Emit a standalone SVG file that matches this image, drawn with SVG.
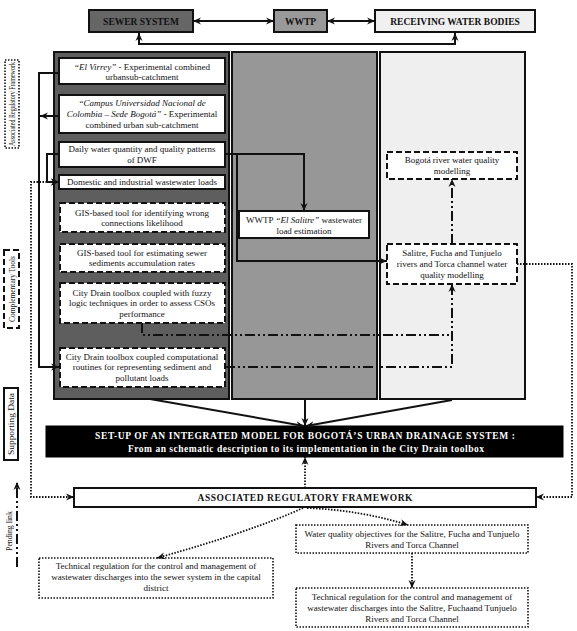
<svg xmlns="http://www.w3.org/2000/svg" width="577" height="631" viewBox="0 0 577 631">
<style>
text{font-family:"Liberation Serif","Times New Roman",serif;font-size:9px;fill:#111;text-anchor:middle}
.hd{font-weight:bold;font-size:9.5px}
.wb{fill:#fff;font-weight:bold;font-size:9.5px}
.lg{font-size:8.5px}
.solid{fill:#fff;stroke:#111;stroke-width:2}
.dash{fill:#fff;stroke:#111;stroke-width:2;stroke-dasharray:6,3}
.dot{fill:#fff;stroke:#111;stroke-width:1.6;stroke-dasharray:1.5,1.5}
.ln{fill:none;stroke:#111;stroke-width:2}
.dd{fill:none;stroke:#111;stroke-width:2;stroke-dasharray:10,3,2,3,2,3}
.dl{fill:none;stroke:#111;stroke-width:1.8;stroke-dasharray:1.5,1.5}
.col{stroke:#111;stroke-width:2}
</style>
<defs>
<marker id="arr" markerUnits="userSpaceOnUse" markerWidth="9" markerHeight="9" refX="8" refY="4" orient="auto-start-reverse">
<path d="M0,0.5 L8,4 L0,7.5 L2.5,4 z" fill="#111"/>
</marker>
</defs>

<g id="legend">
<g id="leg-regulatory"><rect class="dot" x="5" y="60" width="14" height="88"/><text class="lg" transform="translate(15,104) rotate(-90)" textLength="84" lengthAdjust="spacingAndGlyphs">Associated Regulatory Framework</text></g>
<g id="leg-tools"><rect class="dash" x="4" y="250" width="15" height="78"/><text class="lg" transform="translate(15,289) rotate(-90)" textLength="66" lengthAdjust="spacingAndGlyphs">Complementary Tools</text></g>
<g id="leg-data"><rect class="solid" x="4" y="388" width="14" height="72"/><text class="lg" transform="translate(14,424) rotate(-90)" textLength="62" lengthAdjust="spacingAndGlyphs">Supporting Data</text></g>
<g id="leg-pending"><text class="lg" transform="translate(12,531) rotate(-90)" textLength="40" lengthAdjust="spacingAndGlyphs">Pending link</text></g>
</g>

<g id="header">
<g id="sewer-system"><rect x="89" y="10" width="104" height="22" fill="#666" stroke="#111" stroke-width="2"/><text class="hd" x="141" y="25">SEWER SYSTEM</text></g>
<g id="wwtp"><rect x="274" y="10" width="53" height="22" fill="#999" stroke="#111" stroke-width="2"/><text class="hd" x="300.5" y="25">WWTP</text></g>
<g id="receiving"><rect x="375" y="10" width="160" height="22" fill="#f0f0f0" stroke="#111" stroke-width="2"/><text class="hd" x="455" y="25">RECEIVING WATER BODIES</text></g>
</g>

<g id="columns">
<rect id="col-sewer" class="col" x="54" y="52" width="175" height="347" fill="#5e5e5e"/>
<rect id="col-wwtp" class="col" x="232" y="52" width="145" height="347" fill="#979797"/>
<rect id="col-river" class="col" x="380" y="52" width="145" height="347" fill="#efefef"/>
</g>

<g id="n-elvirrey"><rect class="solid" x="59" y="58" width="166" height="26"/><text x="142" y="70"><tspan font-style="italic">“El Virrey”</tspan> -  Experimental combined</text><text x="142" y="80">urbansub-catchment</text></g>
<g id="n-campus"><rect class="solid" x="59" y="95" width="166" height="38"/><text x="142" y="106" font-style="italic">“Campus Universidad Nacional de</text><text x="142" y="117"><tspan font-style="italic">Colombia – Sede Bogotá”</tspan> -  Experimental</text><text x="142" y="128">combined urban sub-catchment</text></g>
<g id="n-daily"><rect class="solid" x="59" y="142" width="166" height="25"/><text x="142" y="152">Daily water quantity and quality patterns</text><text x="142" y="163">of DWF</text></g>
<g id="n-domestic"><rect class="solid" x="59" y="175" width="166" height="14"/><text x="142" y="185">Domestic and industrial wastewater loads</text></g>
<g id="n-gis-wrong"><rect class="dash" x="60" y="203" width="165" height="29"/><text x="142" y="216">GIS-based tool for identifying wrong</text><text x="142" y="226">connections likelihood</text></g>
<g id="n-gis-sed"><rect class="dash" x="60" y="244" width="165" height="28"/><text x="142" y="256">GIS-based tool for estimating sewer</text><text x="142" y="266">sediments accumulation rates</text></g>
<g id="n-fuzzy"><rect class="dash" x="60" y="283" width="165" height="40"/><text x="142" y="296">City Drain toolbox coupled with fuzzy</text><text x="142" y="306">logic techniques in order to assess CSOs</text><text x="142" y="317">performance</text></g>
<g id="n-routines"><rect class="dash" x="60" y="348" width="165" height="39"/><text x="142" y="360">City Drain toolbox coupled computational</text><text x="142" y="370">routines for representing sediment and</text><text x="142" y="381">pollutant loads</text></g>

<g id="n-salitre-wwtp"><rect class="solid" x="239" y="211" width="130" height="27"/><text x="304" y="223">WWTP <tspan font-style="italic">“El Salitre”</tspan> wastewater</text><text x="304" y="234">load estimation</text></g>

<g id="n-bogota"><rect class="dash" x="387" y="152" width="130" height="27"/><text x="452" y="163">Bogotá river water quality</text><text x="452" y="174">modelling</text></g>
<g id="n-rivers"><rect class="dash" x="387" y="244" width="130" height="40"/><text x="452" y="256">Salitre, Fucha and Tunjuelo</text><text x="452" y="267">rivers and Torca channel water</text><text x="452" y="278">quality modelling</text></g>

<g id="n-setup"><rect x="46" y="426" width="517" height="31" fill="#000" stroke="#000"/><text class="wb" x="305" y="439" textLength="420" lengthAdjust="spacing">SET-UP OF AN INTEGRATED  MODEL FOR BOGOTÁ’S  URBAN DRAINAGE  SYSTEM :</text><text class="wb" x="306" y="452" font-size="9" textLength="356" lengthAdjust="spacing">From an schematic description  to its implementation in the City Drain toolbox</text></g>

<g id="n-framework"><rect class="solid" x="74" y="488" width="462" height="19"/><text class="hd" x="305" y="501" font-size="9" textLength="215" lengthAdjust="spacing">ASSOCIATED REGULATORY FRAMEWORK</text></g>

<g id="n-tech-sewer"><rect class="dot" x="39" y="558" width="234" height="40"/><text x="156" y="569">Technical regulation for the control and management of</text><text x="156" y="580">wastewater discharges into the sewer system in the capital</text><text x="156" y="591">district</text></g>
<g id="n-objectives"><rect class="dot" x="296" y="525" width="232" height="28"/><text x="412" y="537">Water quality objectives for the Salitre, Fucha and Tunjuelo</text><text x="412" y="548">Rivers and Torca Channel</text></g>
<g id="n-tech-rivers"><rect class="dot" x="296" y="588" width="232" height="39"/><text x="412" y="600">Technical regulation for the control and management of</text><text x="412" y="611">wastewater discharges into the Salitre, Fuchaand Tunjuelo</text><text x="412" y="622">Rivers and Torca Channel</text></g>

<g id="connectors">
<path class="ln" d="M193,21 H274" marker-start="url(#arr)" marker-end="url(#arr)"/>
<path class="ln" d="M327,21 H375" marker-start="url(#arr)" marker-end="url(#arr)"/>
<path class="ln" d="M139,33 V44 H455 V33" marker-start="url(#arr)" marker-end="url(#arr)"/>
<path class="ln" d="M59,73 H39 V367 H59" marker-end="url(#arr)"/>
<path class="ln" d="M59,116 H40" marker-end="url(#arr)"/>
<path class="ln" d="M59,154 H47 V182 H59" marker-end="url(#arr)"/>
<path class="dl" d="M59,182 H31 V497 H74" marker-start="url(#arr)" marker-end="url(#arr)"/>
<path class="ln" d="M225,154 H304 V211" marker-end="url(#arr)"/>
<path class="ln" d="M237,154 V261 H387" marker-end="url(#arr)"/>
<path class="dd" d="M452,244 V179" marker-end="url(#arr)"/>
<path class="dd" d="M142,323 V335 H452"/>
<path class="dd" d="M225,367 H452 V284" marker-end="url(#arr)"/>
<path class="dl" d="M517,264 H572 V497 H536" marker-end="url(#arr)"/>
<path class="ln" d="M150,399 L304,426" marker-end="url(#arr)"/>
<path class="ln" d="M305,399 V426" marker-end="url(#arr)"/>
<path class="ln" d="M452,400 L306,426" marker-end="url(#arr)"/>
<path class="dl" d="M305,488 V457" marker-end="url(#arr)"/>
<path class="dl" d="M303,508 Q250,532 157,558" marker-end="url(#arr)"/>
<path class="dl" d="M307,508 Q360,510 408,525" marker-end="url(#arr)"/>
<path class="dl" d="M412,553 V588" marker-end="url(#arr)"/>
<path class="dd" d="M17,567 V482" marker-end="url(#arr)"/>
</g>
</svg>
